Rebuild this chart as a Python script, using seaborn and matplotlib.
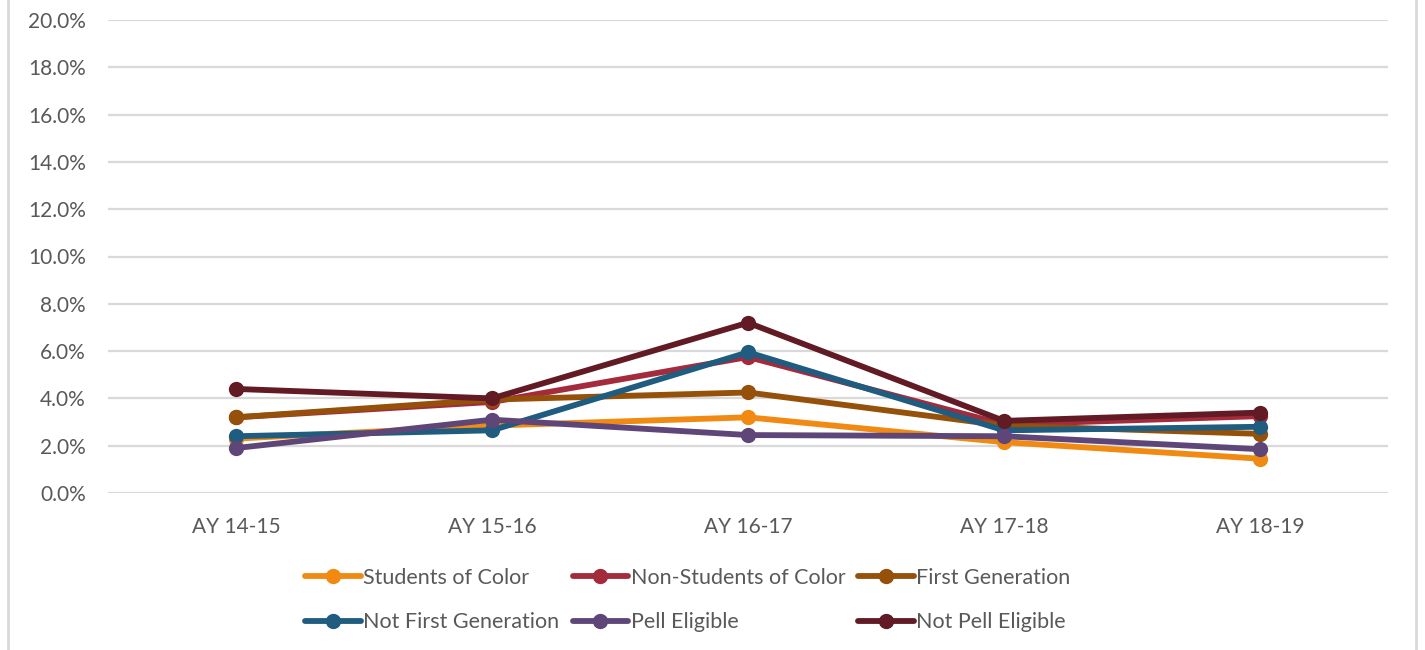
import pandas as pd
import matplotlib
matplotlib.use('Agg')
import matplotlib.pyplot as plt
import seaborn as sns
from matplotlib.lines import Line2D
from matplotlib.ticker import PercentFormatter

years = ['AY 14-15', 'AY 15-16', 'AY 16-17', 'AY 17-18', 'AY 18-19']

students_of_color = [2.3, 2.85, 3.2, 2.15, 1.45]
non_students_of_color = [3.2, 3.85, 5.75, 2.9, 3.25]
first_generation = [3.2, 3.95, 4.25, 2.85, 2.5]
not_first_generation = [2.4, 2.65, 5.95, 2.65, 2.8]
pell_eligible = [1.9, 3.1, 2.45, 2.4, 1.85]
not_pell_eligible = [4.4, 4.0, 7.2, 3.05, 3.4]

series_names = ['Students of Color', 'Non-Students of Color', 'First Generation',
                'Not First Generation', 'Pell Eligible', 'Not Pell Eligible']
series_values = [students_of_color, non_students_of_color, first_generation,
                 not_first_generation, pell_eligible, not_pell_eligible]
colors = ['#F08A12', '#A42B3B', '#95500A', '#1F5C80', '#5F4679', '#621A24']

rows = []
for name, vals in zip(series_names, series_values):
    for yr, v in zip(years, vals):
        rows.append({'Year': yr, 'Group': name, 'Rate': v / 100})
df = pd.DataFrame(rows)

sns.set_style('white')
plt.rcParams['font.family'] = ['Lato', 'DejaVu Sans']
text_color = '#595959'

fig = plt.figure(figsize=(14.25, 6.5), dpi=100)
ax = fig.add_axes([108 / 1425, 1 - 493 / 650, 1280 / 1425, 473 / 650])

sns.lineplot(data=df, x='Year', y='Rate', hue='Group', hue_order=series_names,
             palette=colors, marker='o', markersize=11, markeredgewidth=0,
             linewidth=4.2, sort=False, legend=False, ax=ax)

ax.set_xlim(-0.5, 4.5)
ax.set_ylim(0, 0.2)
ax.set_yticks([i / 100 for i in range(0, 21, 2)])
ax.yaxis.set_major_formatter(PercentFormatter(1.0, decimals=1))
ax.grid(axis='y', color='#D9D9D9', linewidth=1.6)
ax.set_axisbelow(True)
for s in ax.spines.values():
    s.set_visible(False)
ax.set_xlabel('')
ax.set_ylabel('')
ax.tick_params(axis='both', length=0, labelsize=15, colors=text_color)
ax.tick_params(axis='x', pad=17)
ax.tick_params(axis='y', pad=16)

# legend: row-wise order, matplotlib fills columns first
handles = [Line2D([0], [0], color=c, lw=4.2, marker='o', markersize=10) for c in colors]
order = [0, 3, 1, 4, 2, 5]
leg = fig.legend([handles[i] for i in order], [series_names[i] for i in order],
                 ncol=3, loc='center', bbox_to_anchor=(688 / 1425, 1 - 600 / 650),
                 frameon=False, fontsize=15.5, handlelength=2.6, handletextpad=0.1,
                 columnspacing=0.6, labelspacing=1.15)
for t in leg.get_texts():
    t.set_color(text_color)

# chart frame edges
fig.add_artist(Line2D([8 / 1425, 8 / 1425], [0, 1], color='#D9D9D9', lw=2))
fig.add_artist(Line2D([1416 / 1425, 1416 / 1425], [0, 1], color='#D9D9D9', lw=2))

fig.savefig('out.png', dpi=100)
